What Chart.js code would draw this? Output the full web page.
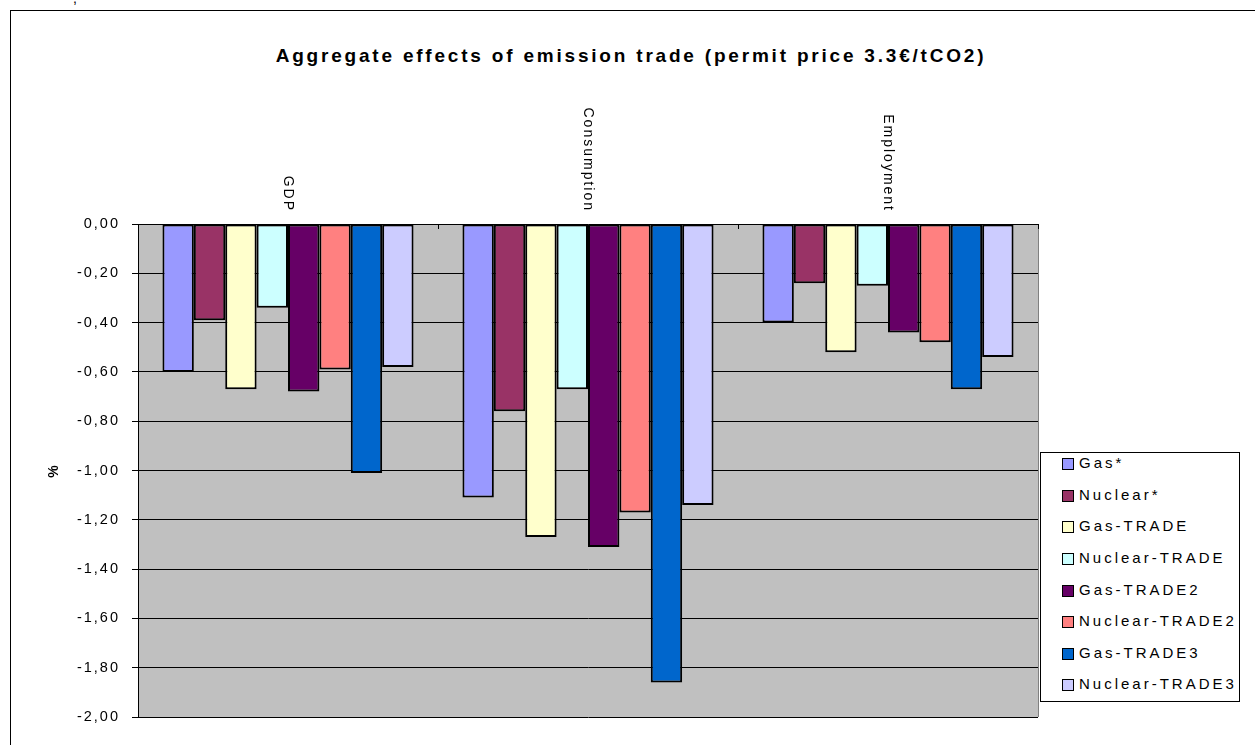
<!DOCTYPE html>
<html>
<head>
<meta charset="utf-8">
<script src="https://cdn.jsdelivr.net/npm/chart.js@4.4.1/dist/chart.umd.min.js"></script>
<style>
  html, body { margin: 0; padding: 0; background: #fff; }
  body { width: 1255px; height: 745px; position: relative; overflow: hidden; font-family: Arial, "Liberation Sans", sans-serif; }
  #frame { position: absolute; left: 10px; top: 10px; width: 1300px; height: 800px; border-left: 1px solid #000; border-top: 1px solid #000; }
  #title { position: absolute; left: 0; width: 1262px; top: 45px; text-align: center; font-weight: bold; font-size: 19px; letter-spacing: 2.8px; color: #000; }
  #wrap { position: absolute; left: 0; top: 0; width: 1255px; height: 745px; }
  #legend { position: absolute; left: 1040px; top: 452px; width: 200px; height: 250px; border: 1px solid #000; background: #fff; box-sizing: border-box; }
  .li { height: 31.6px; display: flex; align-items: center; padding-left: 21px; font-size: 15px; letter-spacing: 3px; color: #000; white-space: nowrap; }
  .li:first-child { margin-top: -6px; }
  .sw { width: 10px; height: 10px; border: 1px solid #000; margin-right: 5px; margin-top: 3px; flex: none; }
  #stub { position: absolute; left: 73px; top: -10px; font-size: 14px; }
</style>
</head>
<body>
<div id="stub">,</div>
<div id="frame"></div>
<div id="title">Aggregate effects of emission trade (permit price 3.3€/tCO2)</div>
<div id="wrap"><canvas id="c"></canvas></div>
<div id="legend"></div>
<script>
// ── DATA ──────────────────────────────────
const categories = ['GDP', 'Consumption', 'Employment'];
const seriesNames = ['Gas*', 'Nuclear*', 'Gas-TRADE', 'Nuclear-TRADE', 'Gas-TRADE2', 'Nuclear-TRADE2', 'Gas-TRADE3', 'Nuclear-TRADE3'];
const gasStar        = [-0.60, -1.11, -0.40];
const nuclearStar    = [-0.39, -0.76, -0.24];
const gasTrade       = [-0.67, -1.27, -0.52];
const nuclearTrade   = [-0.34, -0.67, -0.25];
const gasTrade2      = [-0.68, -1.31, -0.44];
const nuclearTrade2  = [-0.59, -1.17, -0.48];
const gasTrade3      = [-1.01, -1.86, -0.67];
const nuclearTrade3  = [-0.58, -1.14, -0.54];
const seriesValues = [gasStar, nuclearStar, gasTrade, nuclearTrade, gasTrade2, nuclearTrade2, gasTrade3, nuclearTrade3];
const colors = ['#9999FF', '#993366', '#FFFFCC', '#CCFFFF', '#660066', '#FF8080', '#0066CC', '#CCCCFF'];

// ── LEGEND ────────────────────────────────
document.getElementById('legend').innerHTML = seriesNames.map((n, i) =>
  `<div class="li"><span class="sw" style="background:${colors[i]}"></span>${n}</div>`).join('');

// ── PLUGIN: plot bg, category labels, spacing ──
const decor = {
  id: 'decor',
  beforeDraw(chart) {
    const { ctx, chartArea: a } = chart;
    ctx.save();
    ctx.fillStyle = '#C0C0C0';
    ctx.fillRect(a.left, a.top, a.right - a.left, a.bottom - a.top);
    ctx.restore();
    ctx.letterSpacing = '2px';
  },
  afterDraw(chart) {
    const { ctx, chartArea: a } = chart;
    ctx.letterSpacing = '0px';
    ctx.save();
    // right edge of plot
    ctx.strokeStyle = '#808080';
    ctx.lineWidth = 1;
    ctx.beginPath();
    ctx.moveTo(a.right + 0.5, a.top);
    ctx.lineTo(a.right + 0.5, a.bottom);
    ctx.stroke();
    // small tick marks at category boundaries
    ctx.strokeStyle = '#000';
    const w = (a.right - a.left) / categories.length;
    for (let i = 0; i <= categories.length; i++) {
      const x = Math.round(a.left + i * w) + 0.5;
      ctx.beginPath();
      ctx.moveTo(x, a.top);
      ctx.lineTo(x, a.top + 5);
      ctx.stroke();
    }
    // rotated category labels above the plot
    ctx.fillStyle = '#000';
    ctx.font = '14px Arial, "Liberation Sans", sans-serif';
    ctx.letterSpacing = '2px';
    ctx.textAlign = 'right';
    ctx.textBaseline = 'middle';
    categories.forEach((c, i) => {
      const x = chart.scales.x.getPixelForValue(i);
      ctx.save();
      ctx.translate(x, a.top - 12);
      ctx.rotate(Math.PI / 2);
      ctx.fillText(c, 0, 0);
      ctx.restore();
    });
    ctx.restore();
    ctx.letterSpacing = '0px';
  }
};

// ── CHART ────────────────────────────────
new Chart(document.getElementById('c'), {
  type: 'bar',
  data: {
    labels: categories,
    datasets: seriesNames.map((n, i) => ({
      label: n,
      data: seriesValues[i],
      backgroundColor: colors[i],
      borderColor: '#000',
      borderWidth: 2,
      borderSkipped: false,
      categoryPercentage: 0.837,
      barPercentage: 1
    }))
  },
  options: {
    responsive: true, maintainAspectRatio: false, animation: false,
    layout: { padding: { left: 0, top: 224, right: 217, bottom: 28 } },
    plugins: { legend: { display: false }, tooltip: { enabled: false } },
    scales: {
      x: { display: false },
      y: {
        min: -2, max: 0,
        afterFit: s => { s.width = 138; },
        border: { display: true, color: '#000', width: 1 },
        grid: { color: '#000', lineWidth: 1, tickLength: 6, drawTicks: true },
        ticks: {
          stepSize: 0.2, padding: 12, color: '#000',
          font: { size: 14.5, family: 'Arial, "Liberation Sans", sans-serif' },
          callback: v => (Math.abs(v) < 1e-9 ? 0 : v).toFixed(2).replace('.', ',')
        },
        title: {
          display: true, text: '%', color: '#000',
          font: { size: 14, weight: 'bold', family: 'Arial, "Liberation Sans", sans-serif' },
          padding: { top: 46, bottom: 0 }
        }
      }
    }
  },
  plugins: [decor]
});
</script>
</body>
</html>
